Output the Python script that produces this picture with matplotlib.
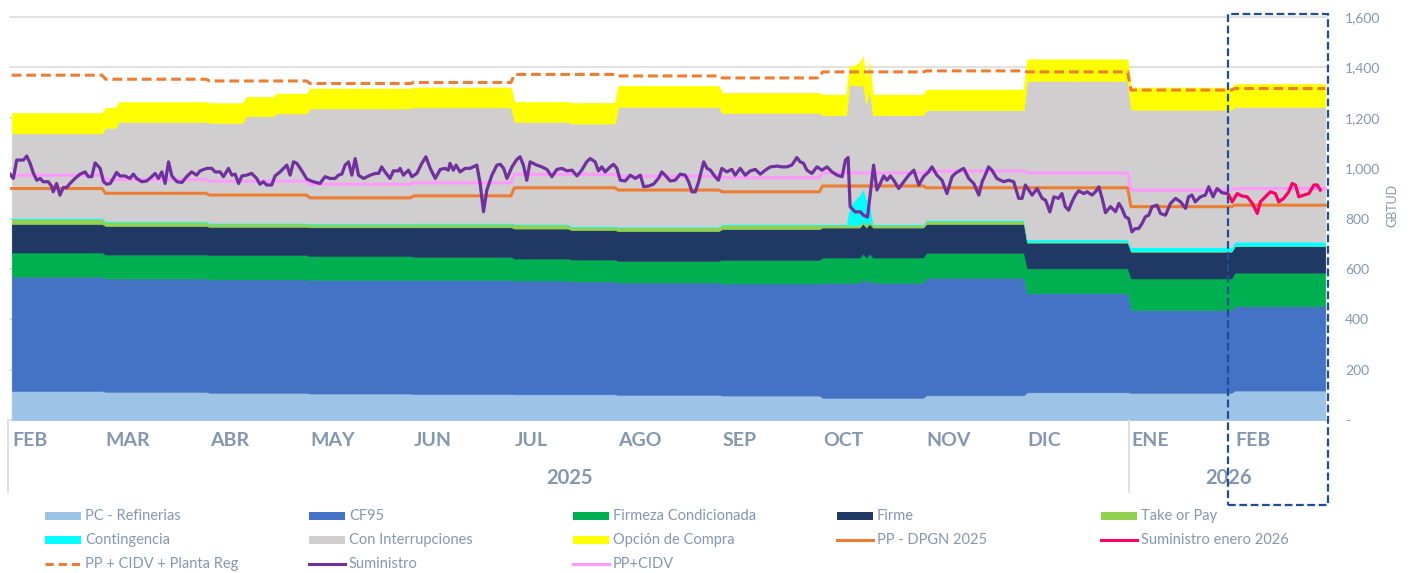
import numpy as np
import pandas as pd
import matplotlib
matplotlib.use('Agg')
import matplotlib.pyplot as plt
import matplotlib.transforms as mtransforms
from matplotlib.patches import Rectangle
from matplotlib.lines import Line2D

plt.rcParams['font.family'] = ['Lato', 'DejaVu Sans']

# ---------------- DATA ----------------
START = pd.Timestamp('2025-02-01')
END = pd.Timestamp('2026-03-01')

month_labels = ['FEB', 'MAR', 'ABR', 'MAY', 'JUN', 'JUL', 'AGO', 'SEP', 'OCT', 'NOV', 'DIC', 'ENE', 'FEB']
year_labels = ['2025', '2026']

# Stacked capacity layers (GBTUD), piecewise by period start
seg_start = ['2025-02-01', '2025-03-01', '2025-03-05', '2025-04-01', '2025-04-12', '2025-04-21',
             '2025-05-01', '2025-06-01', '2025-07-01', '2025-07-18', '2025-08-01', '2025-09-01',
             '2025-10-01', '2025-11-01', '2025-12-01', '2026-01-01', '2026-02-01']
pc_refinerias = [115, 112, 112, 108, 108, 108, 105, 103, 102, 102, 100, 97, 88, 98, 110, 108, 117]
cf95 = [454, 450, 450, 450, 450, 450, 451, 453, 452, 448, 446, 445, 457, 467, 394, 329, 335]
firmeza_cond = [96, 95, 95, 97, 97, 97, 95, 92, 87, 87, 86, 94, 100, 99, 98, 125, 133]
firme = [113, 113, 113, 112, 112, 112, 114, 117, 119, 117, 118, 122, 119, 114, 102, 106, 105]
take_or_pay = [20, 17, 17, 13, 13, 13, 13, 14, 16, 13, 15, 17, 11, 13, 3, 2, 2]
contingencia = [4, 3, 3, 3, 3, 3, 3, 3, 3, 3, 3, 3, 3, 4, 10, 16, 16]
con_interrup = [336, 370, 394, 397, 423, 434, 456, 459, 405, 407, 475, 441, 432, 435, 629, 546, 535]
opcion_compra = [81, 80, 78, 78, 77, 79, 79, 79, 79, 82, 84, 80, 82, 82, 86, 88, 91]

# October spike days
spike_dates = ['2025-10-09', '2025-10-10', '2025-10-11', '2025-10-12', '2025-10-13', '2025-10-14', '2025-10-15']
spike_cf95_extra = [0, 0, 0, 0, 15, 0, 15]
spike_contingencia = [70, 90, 105, 118, 128, 105, 75]
spike_con_interrup = [484, 464, 449, 432, 413, 377, 440]
spike_opcion = [76, 76, 81, 95, 113, 92, 115]

# Monthly reference lines
pp_dpgn_2025 = [919, 900, 893, 882, 890, 922, 913, 906, 929, 922, 922, 847, 853]
pp_cidv = [972, 955, 948, 936, 942, 975, 968, 962, 981, 988, 981, 913, 919]
pp_cidv_planta = [1369, 1353, 1346, 1336, 1340, 1372, 1366, 1358, 1382, 1386, 1382, 1310, 1316]

# Suministro: (days since 2025-02-01, GBTUD)
suministro = [
    (0, 976), (1.0, 959), (2.0, 1032), (4.0, 1032), (5.0, 1048), (6.0, 1019), (7.0, 979), (8.0, 952),
    (9.0, 959), (9.9, 946), (11.4, 946), (12.4, 929), (12.9, 906), (13.9, 939), (14.9, 893), (15.9, 923),
    (16.9, 923), (17.9, 939), (19.4, 959), (20.9, 976), (22.4, 985), (23.4, 966), (24.4, 966), (25.4, 1021),
    (26.9, 999), (27.9, 946), (28.9, 936), (29.9, 939), (30.8, 959), (31.8, 983), (32.8, 969), (34.3, 969),
    (35.8, 959), (36.8, 976), (37.8, 959), (39.3, 946), (40.8, 949), (42.3, 966), (43.3, 979), (44.3, 959),
    (45.3, 985), (46.3, 939), (47.3, 1025), (48.3, 969), (49.8, 946), (51.3, 943), (52.7, 966), (54.2, 985),
    (55.7, 972), (56.7, 989), (58.7, 999), (60.2, 999), (61.2, 985), (62.7, 985), (63.7, 966), (65.2, 999),
    (66.2, 972), (67.2, 976), (68.2, 939), (69.2, 969), (70.6, 972), (72.1, 979), (73.6, 959), (74.6, 936),
    (75.6, 946), (76.6, 933), (78.1, 933), (79.1, 969), (80.6, 985), (82.6, 1012), (83.6, 972), (84.6, 1025),
    (85.6, 1019), (87.1, 989), (88.6, 956), (90.5, 946), (92.5, 939), (94.0, 966), (95.5, 959), (97.0, 959),
    (98.0, 972), (99.0, 976), (100.0, 1012), (101.0, 1025), (102.0, 972), (103.0, 1038), (104.0, 972),
    (105.5, 959), (107.5, 972), (109.0, 979), (110.0, 979), (110.9, 1005), (111.9, 985), (113.4, 959),
    (114.4, 989), (115.9, 989), (116.4, 999), (117.4, 972), (118.9, 992), (119.9, 966), (121.4, 979),
    (122.9, 1019), (124.1, 1045), (125.4, 999), (126.9, 959), (128.4, 995), (129.8, 999), (130.8, 992),
    (131.3, 1019), (132.3, 992), (133.1, 1012), (134.3, 985), (135.8, 999), (137.3, 999), (139.3, 1012),
    (140.3, 939), (141.3, 827), (142.3, 913), (143.8, 972), (145.3, 1012), (146.3, 1015), (147.3, 999),
    (148.3, 959), (149.8, 1005), (151.2, 1034), (152.2, 1045), (153.2, 1012), (154.2, 952), (155.2, 1025),
    (157.2, 1012), (158.7, 1005), (160.2, 995), (161.7, 966), (163.2, 995), (164.7, 999), (166.2, 989),
    (167.7, 992), (169.2, 969), (170.6, 992), (172.1, 1025), (173.1, 1038), (174.6, 1025), (175.6, 989),
    (176.6, 1005), (177.6, 985), (179.1, 1005), (180.1, 1015), (181.1, 999), (182.1, 952), (183.6, 949),
    (185.1, 972), (186.6, 959), (188.1, 972), (189.1, 926), (190.6, 929), (192.0, 936), (193.5, 959),
    (194.5, 985), (195.5, 972), (197.0, 949), (198.5, 952), (200.0, 976), (201.5, 972), (202.5, 946),
    (203.5, 906), (204.5, 906), (205.5, 946), (207.0, 1025), (208.0, 999), (209.0, 992), (210.4, 966),
    (211.4, 952), (212.4, 999), (213.9, 985), (215.4, 995), (216.4, 972), (217.9, 999), (219.4, 972),
    (220.9, 989), (222.4, 995), (223.9, 976), (225.4, 992), (226.9, 1005), (228.9, 1008), (230.3, 1005),
    (231.8, 1005), (233.3, 1012), (234.8, 1042), (235.8, 1025), (236.8, 1019), (237.8, 992), (239.3, 979),
    (240.8, 1005), (242.3, 992), (243.8, 1005), (245.3, 985), (246.8, 972), (248.3, 966), (249.3, 1032),
    (250.1, 1042), (250.7, 847), (252.2, 826), (253.7, 827), (254.7, 813), (255.9, 806), (256.7, 896),
    (257.7, 1012), (258.7, 913), (259.7, 939), (260.7, 969), (261.7, 952), (262.7, 969), (263.7, 952),
    (265.2, 919), (266.7, 946), (268.2, 972), (269.7, 992), (271.2, 933), (272.6, 966), (274.1, 985),
    (275.1, 1005), (276.6, 972), (278.1, 952), (279.6, 899), (281.1, 966), (282.1, 979), (283.6, 992),
    (284.6, 999), (286.1, 959), (287.6, 939), (289.1, 893), (290.1, 946), (291.0, 972), (292.0, 1005),
    (293.0, 992), (294.5, 959), (296.5, 946), (298.0, 952), (299.5, 946), (301.0, 880), (302.0, 880),
    (303.0, 933), (304.0, 913), (305.0, 893), (306.5, 919), (308.0, 880), (309.0, 873), (310.3, 826),
    (311.5, 886), (312.9, 880), (313.9, 899), (314.9, 847), (315.9, 833), (316.9, 866), (317.9, 893),
    (318.9, 910), (320.4, 899), (321.4, 906), (322.9, 893), (323.9, 906), (324.9, 926), (325.9, 880),
    (326.9, 823), (328.4, 847), (329.9, 827), (330.9, 860), (331.8, 840), (332.8, 807), (333.8, 800),
    (334.8, 747), (335.8, 760), (336.8, 760), (337.8, 780), (338.8, 807), (339.8, 813), (340.8, 847),
    (342.3, 853), (343.3, 820), (344.8, 813), (346.3, 860), (347.8, 880), (349.3, 866), (350.8, 840),
    (351.7, 886), (352.7, 893), (353.7, 866), (355.2, 886), (356.7, 893), (357.7, 926), (359.0, 886),
    (360.2, 919), (361.7, 902), (363.2, 899),
]
suministro_ene26 = [
    (363.7, 893), (364.7, 866), (366.2, 899), (367.7, 889), (369.2, 886), (370.7, 860), (372.2, 820),
    (373.1, 866), (374.6, 886), (376.1, 906), (377.6, 899), (378.6, 866), (380.1, 880), (381.6, 906),
    (382.6, 939), (383.6, 933), (384.6, 886), (386.1, 893), (387.6, 899), (389.1, 933), (390.1, 933),
    (391.0, 913),
]

# highlighted period (dashed box)
highlight_start = '2026-01-30'
highlight_end = '2026-02-28'

# ---------------- BUILD ----------------
W, H = 1410, 573
TXT = '#8497B0'
GRID = '#D9D9D9'

days = pd.date_range(START, END - pd.Timedelta(days=1), freq='D')
n = len(days)
didx = np.arange(n)
x = didx + 0.5

seg_off = (pd.to_datetime(seg_start) - START).days.values
seg_i = np.searchsorted(seg_off, didx, side='right') - 1

months = pd.date_range(START, '2026-02-01', freq='MS')
mon_off = (months - START).days.values
mon_i = np.searchsorted(mon_off, didx, side='right') - 1

def daily(seg):
    return np.array(seg, dtype=float)[seg_i]

layers = {
    'pc': daily(pc_refinerias), 'cf95': daily(cf95), 'firmeza': daily(firmeza_cond),
    'firme': daily(firme), 'top': daily(take_or_pay), 'cont': daily(contingencia),
    'gray': daily(con_interrup), 'opc': daily(opcion_compra),
}
sp = (pd.to_datetime(spike_dates) - START).days.values
layers['cf95'][sp] += np.array(spike_cf95_extra)
layers['cont'][sp] = spike_contingencia
layers['gray'][sp] = spike_con_interrup
layers['opc'][sp] = spike_opcion

order = [('pc', '#9DC3E6'), ('cf95', '#4472C4'), ('firmeza', '#00B050'), ('firme', '#1F3864'),
         ('top', '#92D050'), ('cont', '#00FFFF'), ('gray', '#D0CECE'), ('opc', '#FFFF00')]

fig = plt.figure(figsize=(W / 100, H / 100), dpi=100)
ax = fig.add_axes([10 / W, (H - 420) / H, 1317 / W, 403 / H])

for v in range(200, 1601, 200):
    ax.axhline(v, color=GRID, lw=1.1, zorder=0.5, clip_on=False)

base = np.zeros(n)
for key, col in order:
    top = base + layers[key]
    ax.fill_between(x, base, top, facecolor=col, edgecolor=col, lw=0.4, zorder=1)
    base = top

pp1 = np.array(pp_dpgn_2025, float)[mon_i]
pp2 = np.array(pp_cidv, float)[mon_i]
pp3 = np.array(pp_cidv_planta, float)[mon_i]

ax.plot(x, pp3, color='#ED7D31', lw=2.2, dashes=(3.2, 1.6), zorder=3)
ax.plot(x, pp1, color='#ED7D31', lw=2.2, zorder=3)
ax.plot(x, pp2, color='#FF99FF', lw=2.2, zorder=3)
sd = np.array(suministro)
ax.plot(sd[:, 0], sd[:, 1], color='#7030A0', lw=2.3, zorder=4, solid_joinstyle='round')
sr = np.array(suministro_ene26)
ax.plot(sr[:, 0], sr[:, 1], color='#FF0066', lw=2.3, zorder=4, solid_joinstyle='round')

ax.set_xlim(0, n)
ax.set_ylim(0, 1600)
for s in ax.spines.values():
    s.set_visible(False)
ax.set_xticks([])
ax.yaxis.tick_right()
yt = list(range(0, 1601, 200))
ax.set_yticks(yt)
ax.set_yticklabels(['-' if v == 0 else f'{v:,}' for v in yt])
ax.tick_params(axis='y', length=0, pad=13, labelsize=10, labelcolor=TXT)
fig.text(1392 / W, 1 - 205 / H, 'GBTUD', rotation=90, ha='center', va='center', fontsize=9, color=TXT)

trans = mtransforms.blended_transform_factory(ax.transData, ax.transAxes)
ax.axhline(0, color=GRID, lw=1.2, zorder=0.5, clip_on=False)
for i, lab in enumerate(month_labels):
    ax.text(mon_off[i] + 0.6, -0.052, lab, transform=trans, ha='left', va='center',
            fontsize=14, fontweight='bold', color=TXT)
jan = mon_off[11]
ax.text(jan / 2, -0.144, year_labels[0], transform=trans, ha='center', va='center',
        fontsize=14.5, fontweight='bold', color=TXT)
ax.text((jan + n) / 2, -0.144, year_labels[1], transform=trans, ha='center', va='center',
        fontsize=14.5, fontweight='bold', color=TXT)
for xv in [-0.6, jan]:
    ax.plot([xv, xv], [0, -0.179], transform=trans, color=GRID, lw=1.2, clip_on=False)

h0 = (pd.Timestamp(highlight_start) - START).days + 0.6
h1 = (pd.Timestamp(highlight_end) - START).days + 1.2
ax.add_patch(Rectangle((h0, -0.211), h1 - h0, 1.218, transform=trans, fill=False,
                       edgecolor='#1F4E99', lw=1.6, linestyle=(0, (3.5, 1.6)), clip_on=False, zorder=6))

# legend (row-major, 5 columns)
legend_items = [
    ('PC - Refinerias', 'patch', '#9DC3E6'), ('CF95', 'patch', '#4472C4'),
    ('Firmeza Condicionada', 'patch', '#00B050'), ('Firme', 'patch', '#1F3864'),
    ('Take or Pay', 'patch', '#92D050'), ('Contingencia', 'patch', '#00FFFF'),
    ('Con Interrupciones', 'patch', '#D0CECE'), ('Opción de Compra', 'patch', '#FFFF00'),
    ('PP - DPGN 2025', 'line', '#ED7D31'), ('Suministro enero 2026', 'line', '#FF0066'),
    ('PP + CIDV + Planta Reg', 'dash', '#ED7D31'), ('Suministro', 'line', '#7030A0'),
    ('PP+CIDV', 'line', '#FF99FF'),
]
col_x = [45, 309, 573, 837, 1101]
row_y = [516, 540, 564]
for i, (lab, kind, col) in enumerate(legend_items):
    r, c = divmod(i, 5)
    x0, y0 = col_x[c], row_y[r]
    if kind == 'patch':
        fig.patches.append(Rectangle((x0 / W, 1 - (y0 + 4) / H), 36 / W, 8 / H,
                                     transform=fig.transFigure, facecolor=col, edgecolor='none'))
    else:
        ln = Line2D([x0 / W, (x0 + 36) / W], [1 - y0 / H] * 2, transform=fig.transFigure,
                    color=col, lw=2.2)
        if kind == 'dash':
            ln.set_dashes((2.7, 1.6))
        fig.lines.append(ln)
    fig.text((x0 + 40) / W, 1 - y0 / H, lab, ha='left', va='center', fontsize=10.5, color=TXT)

fig.savefig('out.png', dpi=100)
